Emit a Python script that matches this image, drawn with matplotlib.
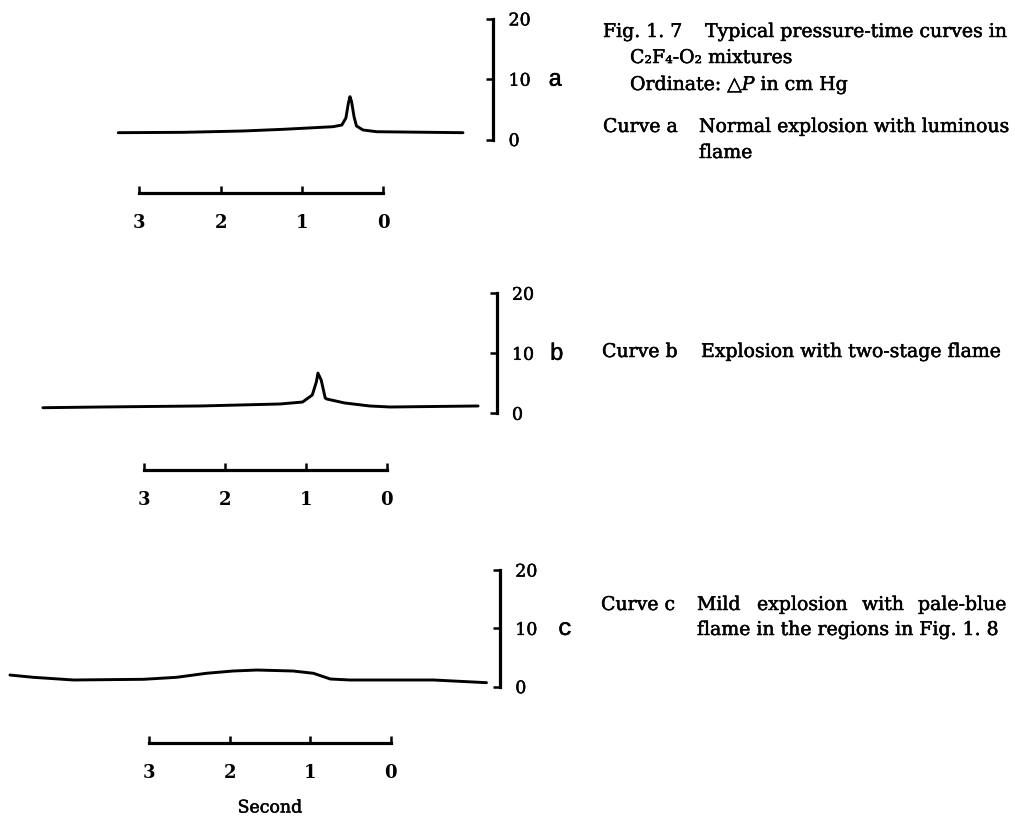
import matplotlib
matplotlib.use("Agg")
import matplotlib.pyplot as plt
import matplotlib.patheffects as pe

plt.rcParams['font.family'] = ['DejaVu Serif', 'DejaVu Sans']
plt.rcParams['mathtext.fontset'] = 'dejavuserif'

# pressure-time traces, t in s (counted backwards), dP in cm Hg
t_a = [3.26, 2.46, 1.73, 1.23, 0.62, 0.51, 0.46, 0.43, 0.41, 0.39, 0.36, 0.33, 0.25, 0.08, -0.98]
p_a = [1.13, 1.19, 1.41, 1.69, 2.12, 2.40, 3.57, 6.00, 7.10, 6.27, 3.78, 2.24, 1.58, 1.29, 1.13]

t_b = [4.25, 3.54, 2.31, 1.32, 1.04, 0.92, 0.87, 0.85, 0.81, 0.76, 0.74, 0.52, 0.21, -0.04, -1.13]
p_b = [0.93, 1.05, 1.22, 1.55, 1.88, 3.05, 5.20, 6.70, 5.55, 2.55, 2.38, 1.72, 1.22, 1.05, 1.22]

t_c = [4.73, 4.44, 3.94, 3.07, 2.66, 2.29, 1.96, 1.66, 1.21, 0.96, 0.75, 0.51, -0.53, -1.19]
p_c = [2.00, 1.61, 1.15, 1.27, 1.61, 2.30, 2.69, 2.86, 2.69, 2.30, 1.32, 1.15, 1.15, 0.69]

curve_names = ['a', 'b', 'c']
time_ticks = [0, 1, 2, 3]
pressure_ticks = [0, 10, 20]

W, H = 1015, 819
fig = plt.figure(figsize=(W / 100, H / 100), dpi=100)

# slightly heavier strokes, like printed type
ink = [pe.withStroke(linewidth=0.35, foreground='black')]

# panel placement in pixels: x of t=0, px per s, y of dP=0, px per cm Hg,
# y of the time bar, x of the pressure bar
layout = [
    (383.3, 81.3, 139.5, 6.03, 193.3, 493.3),
    (386.7, 80.9, 413.3, 6.00, 470.5, 496.7),
    (390.7, 80.5, 686.7, 5.83, 743.3, 500.0),
]
letter_dx = [55, 53, 58]

for name, (t, p), (x0, sx, y0, sy, yb, xs), dx in zip(
        curve_names, [(t_a, p_a), (t_b, p_b), (t_c, p_c)], layout, letter_dx):
    ytop = y0 - 20 * sy
    ax = fig.add_axes([0, 1 - yb / H, xs / W, (yb - ytop) / H])
    ax.set_xlim(x0 / sx, (x0 - xs) / sx)
    ax.set_ylim((y0 - yb) / sy, 20)
    ax.patch.set_visible(False)

    ax.plot(t, p, color='black', lw=2.1, clip_on=False,
            solid_capstyle='round', solid_joinstyle='round')

    for side in ['left', 'top']:
        ax.spines[side].set_visible(False)
    ax.spines['right'].set_bounds(0, 20)
    ax.spines['bottom'].set_bounds(0, 3)
    for side in ['right', 'bottom']:
        ax.spines[side].set_linewidth(2.3)

    ax.set_xticks(time_ticks)
    ax.set_xticklabels([str(v) for v in time_ticks], fontsize=13, fontweight='bold')
    ax.tick_params(axis='x', direction='in', length=5, width=1.8, pad=15)

    ax.yaxis.tick_right()
    ax.set_yticks(pressure_ticks)
    ax.set_yticklabels([str(v) for v in pressure_ticks], fontsize=12.5)
    ax.tick_params(axis='y', direction='in', length=5, width=1.8, pad=11)
    for lab in ax.get_yticklabels():
        lab.set_path_effects(ink)

    ax.annotate(name, xy=(1, 10), xycoords=('axes fraction', 'data'),
                xytext=(dx, 0), textcoords='offset pixels',
                ha='left', va='center', fontsize=17, family='Liberation Mono',
                path_effects=ink)

fig.text(270 / W, 1 - 808 / H, 'Second', ha='center', va='center',
         fontsize=12.5, path_effects=ink)


def put(x, y, s):
    fig.text(x / W, 1 - y / H, s, ha='left', va='center', fontsize=13.6,
             path_effects=ink)


put(603, 32, 'Fig. 1. 7')
put(705, 32, 'Typical pressure-time curves in')
put(630, 58, 'C₂F₄-O₂ mixtures')
put(630, 85, 'Ordinate: △$P$ in cm Hg')
put(603, 127, 'Curve a')
put(699, 127, 'Normal explosion with luminous')
put(699, 153, 'flame')
put(602, 352, 'Curve b')
put(701, 352, 'Explosion with two-stage flame')
put(601, 605, 'Curve c')
put(697, 605, 'Mild')
put(757, 605, 'explosion')
put(862, 605, 'with')
put(918, 605, 'pale-blue')
put(697, 630, 'flame in the regions in Fig. 1. 8')

fig.savefig('out.png', dpi=100)
